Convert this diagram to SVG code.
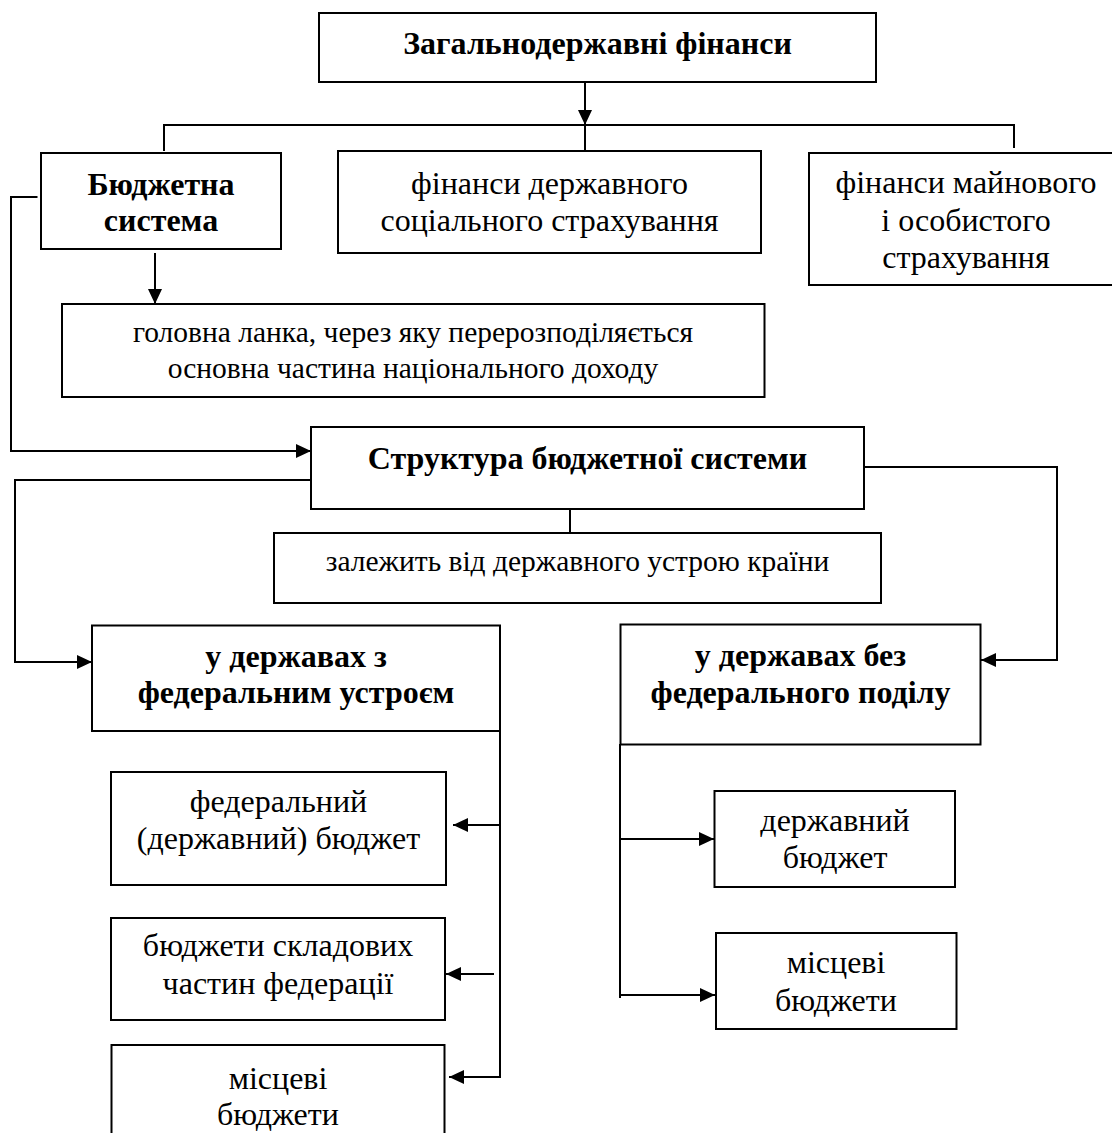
<svg xmlns="http://www.w3.org/2000/svg" width="1112" height="1133" viewBox="0 0 1112 1133">
<style>
.box{fill:#fff;stroke:#000;stroke-width:2}
.t{font-family:"Liberation Serif","Times New Roman",serif;font-size:32px;text-anchor:middle;fill:#000}
.s{font-size:29.5px}
.b{font-weight:bold}
.c{fill:none;stroke:#000;stroke-width:2}
.a{marker-end:url(#ah)}
</style>
<defs>
<marker id="ah" markerUnits="userSpaceOnUse" markerWidth="15" markerHeight="14" refX="15" refY="7" orient="auto" overflow="visible">
<path d="M0,0 L15,7 L0,14 z" fill="#000"/>
</marker>
</defs>
<rect width="1112" height="1133" fill="#fff"/>
<g id="connectors">
<line class="c a" x1="585" y1="82" x2="585" y2="125"/>
<polyline class="c" points="164,151 164,125 1014,125 1014,148"/>
<line class="c" x1="585" y1="125" x2="585" y2="151"/>
<polyline class="c a" points="37.5,197 11,197 11,451 311,451"/>
<line class="c a" x1="155" y1="253" x2="155" y2="304"/>
<polyline class="c a" points="311,480 15,480 15,662 92,662"/>
<polyline class="c a" points="864,467 1057,467 1057,660 981,660"/>
<line class="c" x1="570" y1="509" x2="570" y2="533"/>
<line class="c" x1="500" y1="721" x2="500" y2="1078"/>
<line class="c a" x1="500" y1="825" x2="453" y2="825"/>
<line class="c a" x1="494" y1="974" x2="446" y2="974"/>
<line class="c a" x1="500" y1="1077" x2="449" y2="1077"/>
<line class="c" x1="620" y1="744" x2="620" y2="998"/>
<line class="c a" x1="620" y1="839" x2="714" y2="839"/>
<line class="c a" x1="620" y1="995" x2="715" y2="995"/>
</g>
<g id="n-zagalno">
<rect class="box" x="319" y="13" width="557" height="69"/>
<text class="t b" x="597.5" y="54">Загальнодержавні фінанси</text>
</g>
<g id="n-budget-system">
<rect class="box" x="41" y="153" width="240" height="96"/>
<text class="t b" x="161" y="195">Бюджетна</text>
<text class="t b" x="161" y="231">система</text>
</g>
<g id="n-social">
<rect class="box" x="338" y="151" width="423" height="102"/>
<text class="t" x="549.5" y="194">фінанси державного</text>
<text class="t" x="549.5" y="231">соціального страхування</text>
</g>
<g id="n-property">
<rect class="box" x="809" y="153" width="320" height="132"/>
<text class="t" x="966" y="193">фінанси майнового</text>
<text class="t" x="966" y="231">і особистого</text>
<text class="t" x="966" y="268">страхування</text>
</g>
<g id="n-main-link">
<rect class="box" x="62" y="304" width="702.5" height="93"/>
<text class="t s" x="413" y="342">головна ланка, через яку перерозподіляється</text>
<text class="t s" x="413" y="378">основна частина національного доходу</text>
</g>
<g id="n-structure">
<rect class="box" x="311" y="427" width="553" height="82"/>
<text class="t b" x="587.5" y="469">Структура бюджетної системи</text>
</g>
<g id="n-depends">
<rect class="box" x="274" y="533" width="607" height="70"/>
<text class="t s" x="577.5" y="571">залежить від державного устрою країни</text>
</g>
<g id="n-federal">
<rect class="box" x="92" y="625.5" width="408" height="105.5"/>
<text class="t b" x="296" y="667">у державах з</text>
<text class="t b" x="296" y="703">федеральним устроєм</text>
</g>
<g id="n-federal-budget">
<rect class="box" x="111" y="772" width="335" height="113"/>
<text class="t" x="278.5" y="812">федеральний</text>
<text class="t" x="278.5" y="849">(державний) бюджет</text>
</g>
<g id="n-constituent">
<rect class="box" x="111" y="918" width="334" height="102"/>
<text class="t" x="278" y="956">бюджети складових</text>
<text class="t" x="278" y="994">частин федерації</text>
</g>
<g id="n-local-fed">
<rect class="box" x="111.5" y="1045" width="333" height="110"/>
<text class="t" x="278" y="1089">місцеві</text>
<text class="t" x="278" y="1125">бюджети</text>
</g>
<g id="n-unitary">
<rect class="box" x="620.5" y="624.5" width="360" height="120"/>
<text class="t b" x="800.5" y="666">у державах без</text>
<text class="t b" x="800.5" y="703">федерального поділу</text>
</g>
<g id="n-state-budget">
<rect class="box" x="714.5" y="791" width="240.5" height="96"/>
<text class="t" x="835" y="831">державний</text>
<text class="t" x="835" y="868">бюджет</text>
</g>
<g id="n-local-unitary">
<rect class="box" x="716" y="933" width="240.5" height="96"/>
<text class="t" x="836" y="973">місцеві</text>
<text class="t" x="836" y="1011">бюджети</text>
</g>
</svg>
